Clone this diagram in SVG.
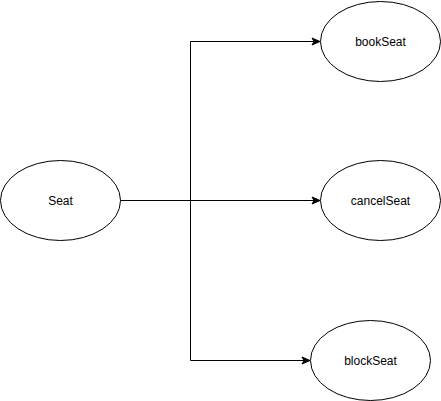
<svg xmlns="http://www.w3.org/2000/svg" width="441" height="401" viewBox="0 0 441 401">
<style>
.node ellipse{fill:#fff;stroke:#000;stroke-width:1}
.node text{font-family:"Liberation Sans",Arial,Helvetica,sans-serif;font-size:12px;fill:#000;text-anchor:middle;dominant-baseline:central}
.edge{fill:none;stroke:#000;stroke-width:1;marker-end:url(#arr)}
</style>
<defs>
<marker id="arr" viewBox="0 0 10 10" refX="9" refY="5" markerWidth="10" markerHeight="10" markerUnits="userSpaceOnUse" orient="auto">
<path d="M1,1.5 L9,5 L1,8.5 L3,5 Z" fill="#000" stroke="#000" stroke-width="1"/>
</marker>
</defs>
<rect width="441" height="401" fill="#fff"/>
<g id="connectors">
<path class="edge" d="M120.5,200.5 H190.5 V41.5 H320"/>
<path class="edge" d="M120.5,200.5 H320"/>
<path class="edge" d="M120.5,200.5 H190.5 V360.5 H310"/>
</g>
<g id="seat" class="node"><ellipse cx="60.5" cy="200.5" rx="60" ry="40"/><text x="60.5" y="200.5">Seat</text></g>
<g id="bookSeat" class="node"><ellipse cx="380.5" cy="41.5" rx="60" ry="40"/><text x="380.5" y="41.5">bookSeat</text></g>
<g id="cancelSeat" class="node"><ellipse cx="380.5" cy="200.5" rx="60" ry="40"/><text x="380.5" y="200.5">cancelSeat</text></g>
<g id="blockSeat" class="node"><ellipse cx="370.5" cy="360.5" rx="60" ry="40"/><text x="370.5" y="360.5">blockSeat</text></g>
</svg>
